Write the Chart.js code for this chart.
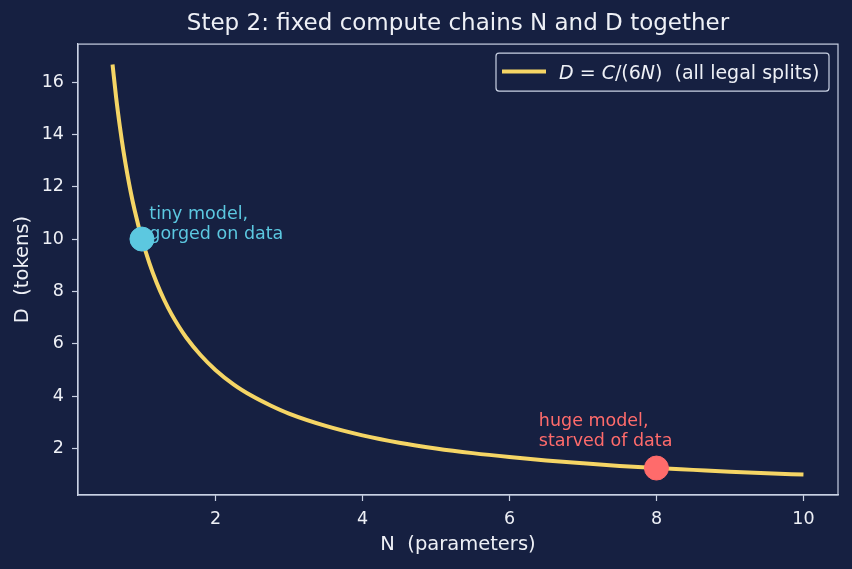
<!DOCTYPE html>
<html>
<head>
<meta charset="utf-8">
<script src="https://cdn.jsdelivr.net/npm/chart.js@4.4.1/dist/chart.umd.min.js"></script>
<style>
  html, body { margin: 0; padding: 0; background: #162041; }
  #wrap { width: 852px; height: 569px; }
</style>
</head>
<body>
<div id="wrap"><canvas id="c" width="852" height="569"></canvas></div>
<script>
// ---- data ----
const nValues = [0.6, 0.65, 0.7, 0.75, 0.8, 0.85, 0.9, 1.0, 1.1, 1.2, 1.3, 1.4, 1.5, 1.6, 1.8, 2.0, 2.25, 2.5, 2.75, 3.0, 3.5, 4.0, 4.5, 5.0, 5.5, 6.0, 6.5, 7.0, 7.5, 8.0, 8.5, 9.0, 9.5, 10.0];
const dValues = [16.67, 15.38, 14.29, 13.33, 12.5, 11.76, 11.11, 10.0, 9.09, 8.33, 7.69, 7.14, 6.67, 6.25, 5.56, 5.0, 4.44, 4.0, 3.64, 3.33, 2.86, 2.5, 2.22, 2.0, 1.82, 1.67, 1.54, 1.43, 1.33, 1.25, 1.18, 1.11, 1.05, 1.0];
const tinyPoint = { n: 1, d: 10 };
const hugePoint = { n: 8, d: 1.25 };
const xTicks = [2, 4, 6, 8, 10];
const yTicks = [2, 4, 6, 8, 10, 12, 14, 16];
const titleText = 'Step 2: fixed compute chains N and D together';
const xLabel = 'N  (parameters)';
const yLabel = 'D  (tokens)';
const tinyNote = ['tiny model,', 'gorged on data'];
const hugeNote = ['huge model,', 'starved of data'];
const tinyNoteAt = { n: 1.1, d: 10.0 };
const hugeNoteAt = { n: 6.4, d: 2.1 };

// ---- styles ----
const BG = '#162041';
const SPINE = '#c9d1e3';
const TEXT = '#eef0f6';
const YELLOW = '#f5d565';
const BLUE = '#5cc8e0';
const RED = '#ff6b6b';
const FONT = "'DejaVu Sans', sans-serif";

const curve = nValues.map((n, i) => ({ x: n, y: dValues[i] }));

const decor = {
  id: 'decor',
  beforeDraw(chart) {
    const ctx = chart.ctx;
    ctx.save();
    ctx.fillStyle = BG;
    ctx.fillRect(0, 0, chart.width, chart.height);
    ctx.restore();
  },
  afterDraw(chart) {
    const { ctx, chartArea: a, scales } = chart;
    const xs = scales.x, ys = scales.y;
    ctx.save();
    // frame (top and right spines)
    ctx.strokeStyle = SPINE;
    ctx.lineWidth = 1.2;
    ctx.strokeRect(a.left, a.top, a.right - a.left, a.bottom - a.top);

    // annotations
    ctx.font = '17.5px ' + FONT;
    ctx.textAlign = 'left';
    ctx.textBaseline = 'alphabetic';
    const lh = 20;
    function note(lines, at, color) {
      ctx.fillStyle = color;
      const px = xs.getPixelForValue(at.n);
      const py = ys.getPixelForValue(at.d);
      for (let i = 0; i < lines.length; i++) {
        ctx.fillText(lines[i], px, py - (lines.length - 1 - i) * lh);
      }
    }
    note(tinyNote, tinyNoteAt, BLUE);
    note(hugeNote, hugeNoteAt, RED);

    // legend
    const lx = a.right - 342, ly = a.top + 9, lw = 333, lhgt = 38;
    ctx.fillStyle = BG;
    ctx.strokeStyle = SPINE;
    ctx.lineWidth = 1.2;
    ctx.beginPath();
    ctx.roundRect(lx, ly, lw, lhgt, 3);
    ctx.fill();
    ctx.stroke();
    ctx.strokeStyle = YELLOW;
    ctx.lineWidth = 4;
    ctx.beginPath();
    ctx.moveTo(lx + 6, ly + 18.5);
    ctx.lineTo(lx + 50, ly + 18.5);
    ctx.stroke();
    const parts = [
      ['italic', 'D'], ['normal', ' = '], ['italic', 'C'], ['normal', '/(6'], ['italic', 'N'], ['normal', ')  (all legal splits)']
    ];
    let tx = lx + 63;
    const ty = ly + 25.5;
    ctx.fillStyle = TEXT;
    ctx.textBaseline = 'alphabetic';
    for (const [st, s] of parts) {
      ctx.font = (st === 'italic' ? 'italic ' : '') + '19px ' + FONT;
      ctx.fillText(s, tx, ty);
      tx += ctx.measureText(s).width;
    }
    ctx.restore();
  }
};

new Chart(document.getElementById('c'), {
  type: 'scatter',
  data: {
    datasets: [
      {
        label: 'D = C/(6N)  (all legal splits)',
        data: curve,
        showLine: true,
        borderColor: YELLOW,
        borderWidth: 4,
        pointRadius: 0,
        cubicInterpolationMode: 'monotone',
        order: 2
      },
      {
        label: 'tiny',
        data: [{ x: tinyPoint.n, y: tinyPoint.d }],
        backgroundColor: BLUE,
        borderColor: BLUE,
        pointRadius: 12,
        order: 1
      },
      {
        label: 'huge',
        data: [{ x: hugePoint.n, y: hugePoint.d }],
        backgroundColor: RED,
        borderColor: RED,
        pointRadius: 12,
        order: 1
      }
    ]
  },
  options: {
    responsive: false,
    animation: false,
    layout: { padding: { left: 0, right: 14, top: 0, bottom: 0 } },
    plugins: {
      legend: { display: false },
      tooltip: { enabled: false },
      title: {
        display: true,
        text: titleText,
        color: TEXT,
        fullSize: false,
        font: { family: FONT, size: 23, weight: 'normal' },
        padding: { top: 10.5, bottom: 6 }
      }
    },
    scales: {
      x: {
        type: 'linear',
        min: 0.13,
        max: 10.47,
        afterBuildTicks(s) { s.ticks = xTicks.map(v => ({ value: v })); },
        afterFit(s) { s.height = 74; },
        grid: { display: true, drawOnChartArea: false, drawTicks: true, tickLength: 6, color: SPINE, tickWidth: 1.2 },
        border: { display: true, color: SPINE, width: 1.2 },
        ticks: { color: TEXT, font: { family: FONT, size: 17.5 }, padding: 8, maxRotation: 0 },
        title: { display: true, text: xLabel, color: TEXT, font: { family: FONT, size: 19.5 }, padding: { top: 0, bottom: 12 } }
      },
      y: {
        type: 'linear',
        min: 0.22,
        max: 17.45,
        afterBuildTicks(s) { s.ticks = yTicks.map(v => ({ value: v })); },
        afterFit(s) { s.width = 78; },
        grid: { display: true, drawOnChartArea: false, drawTicks: true, tickLength: 6, color: SPINE, tickWidth: 1.2 },
        border: { display: true, color: SPINE, width: 1.2 },
        ticks: { color: TEXT, font: { family: FONT, size: 17.5 }, padding: 8 },
        title: { display: true, text: yLabel, color: TEXT, font: { family: FONT, size: 19.5 }, padding: { top: 11, bottom: 0 } }
      }
    }
  },
  plugins: [decor]
});
</script>
</body>
</html>
